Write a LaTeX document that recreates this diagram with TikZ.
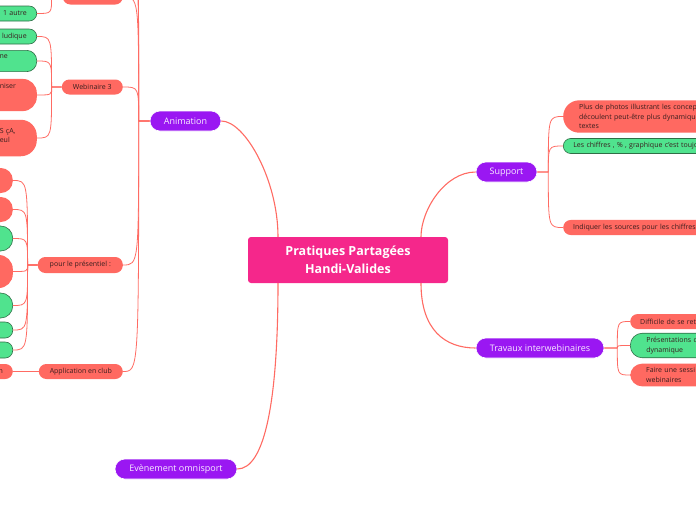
\documentclass[tikz,border=0pt]{standalone}
\usepackage{fontspec}
\setmainfont{Open Sans}
\usetikzlibrary{positioning}
\definecolor{hubpink}{HTML}{F5278B}
\definecolor{topicviolet}{HTML}{9A17F2}
\definecolor{topictext}{HTML}{F8ECFF}
\definecolor{ideared}{HTML}{FF6961}
\definecolor{ideagreen}{HTML}{50E38E}
\definecolor{ideaedge}{HTML}{2F6E47}
\definecolor{ideaink}{HTML}{3A1E1E}
\definecolor{linkred}{HTML}{FF6B63}
\newcommand{\cutl}[1]{\makebox[27pt][l]{#1}}

\tikzset{
  hub/.style={fill=hubpink, rounded corners=3pt, text=white,
    font=\bfseries\fontsize{12.5}{18}\selectfont, align=center,
    minimum width=200pt, minimum height=46pt},
  topic/.style={fill=topicviolet, draw=white, line width=0.6pt, rounded corners=10pt,
    text=topictext, font=\fontsize{9}{10}\selectfont, minimum height=20pt},
  idea/.style={fill=ideared, rounded corners=7.5pt, text=ideaink,
    font=\fontsize{7}{9.5}\selectfont, minimum height=15pt, inner xsep=10pt, inner ysep=4pt},
  okidea/.style={idea, fill=ideagreen, draw=ideaedge, line width=0.6pt},
  leftcut/.style={anchor=east, text width=60pt, align=right},
  rightcut/.style={anchor=west, text width=150pt, align=left},
  branch/.style={draw=linkred, line width=0.8pt},
  fork/.style={to path={-- ++(#1,0) coordinate (f) .. controls (f |- \tikztotarget) .. (\tikztotarget)}},
}

\begin{document}
\begin{tikzpicture}[x=1pt, y=-1pt] % pixel coordinates, y going down
  \useasboundingbox (0,0) rectangle (696,520);

  \node[hub] (hub) at (348,260) {Pratiques Partagées\\Handi-Valides};

  \node[topic, minimum width=71pt] (anim) at (185.5,121) {Animation};
  \node[topic, minimum width=61pt] (sup) at (506.5,172) {Support};
  \node[topic, minimum width=128pt] (trav) at (540,348) {Travaux interwebinaires};
  \node[topic, minimum width=122pt] (evt) at (176,469) {Evènement omnisport};

  \draw[branch, line width=1.1pt] ([xshift=-70pt]hub.north) .. controls (278,180) and (245,121) .. (anim.east);
  \draw[branch, line width=1.1pt] ([xshift=-70pt]hub.south) .. controls (278,400) and (265,469) .. (evt.east);
  \draw[branch, line width=1.1pt] ([xshift=73pt]hub.north) .. controls (421,210) and (445,172) .. (sup.west);
  \draw[branch, line width=1.1pt] ([xshift=73pt]hub.south) .. controls (421,330) and (445,348) .. (trav.west);

  % Animation
  \node[idea, minimum width=60pt, anchor=east] (webtop) at (123,-3) {};
  \node[idea, minimum width=61pt, anchor=east] (web3) at (123,87) {Webinaire 3};
  \node[idea, minimum width=85pt, minimum height=16pt, anchor=east] (pres) at (123,265) {pour le présentiel :};
  \node[idea, minimum width=84pt, anchor=east] (club) at (123,371.5) {Application en club};
  \coordinate (animup1) at (123,-45);
  \coordinate (animup2) at (123,-95);

  \draw[branch] (anim.west) to[fork=-11] (animup2);
  \draw[branch] (anim.west) to[fork=-11] (animup1);
  \draw[branch] (anim.west) to[fork=-11] (webtop.east);
  \draw[branch] (anim.west) to[fork=-11] (web3.east);
  \draw[branch] (anim.west) to[fork=-11] (pres.east);
  \draw[branch] (anim.west) to[fork=-11] (club.east);

  \node[okidea, leftcut] (autre) at (37,13.5) {1 autre};
  \draw[branch] (webtop.west) to[fork=-11] (autre.east);

  \node[okidea, leftcut] (lud) at (37,36.5) {ludique};
  \node[okidea, leftcut, rounded corners=10pt] (ne) at (37,61) {\cutl{ne}\\~};
  \node[idea, leftcut, rounded corners=14pt] (nis) at (37,95) {\cutl{niser}\\~\\~};
  \node[idea, leftcut, rounded corners=16pt] (sca) at (37,138) {~\\\cutl{S çA,}\\\cutl{eul}\\~};

  \foreach \n in {lud,ne,nis,sca}
    \draw[branch] (web3.west) to[fork=-10] (\n.east);

  \node[idea, leftcut, minimum height=25pt, rounded corners=12pt] (p1) at (13,180.5) {};
  \node[idea, leftcut, minimum height=25pt, rounded corners=12pt] (p2) at (13,209.5) {};
  \node[okidea, leftcut, minimum height=25pt, rounded corners=12pt] (p3) at (13,238.5) {};
  \node[idea, leftcut, minimum height=33pt, rounded corners=14pt] (p4) at (13,271.5) {};
  \node[okidea, leftcut, minimum height=25pt, rounded corners=12pt] (p5) at (13,305.5) {};
  \node[okidea, leftcut, minimum height=16pt] (p6) at (13,330) {};
  \node[okidea, leftcut, minimum height=16pt] (p7) at (13,350) {};

  \foreach \n in {p1,p2,p3,p4,p5,p6,p7}
    \draw[branch] (pres.west) to[fork=-10] (\n.east);

  \node[idea, leftcut] (clubn) at (13,371.5) {n};
  \draw[branch] (club.west) -- (clubn.east);

  % Support
  \node[idea, rightcut, inner xsep=16pt, rounded corners=16pt] (photos) at (563,116.5) {Plus de photos illustrant les concept\\découlent peut-être plus dynamique\\textes};
  \node[okidea, rightcut] (chif) at (563,146) {Les chiffres , \% , graphique c'est toujo};
  \node[idea, rightcut] (src) at (563,227.5) {Indiquer les sources pour les chiffres};

  \foreach \n in {photos,chif,src}
    \draw[branch] (sup.east) to[fork=11] (\n.west);

  % Travaux interwebinaires
  \node[idea, rightcut] (diff) at (630,321.5) {Difficile de se ret};
  \node[okidea, rightcut, inner xsep=16pt, rounded corners=12pt] (prez) at (630,345.5) {Présentations d\\dynamique};
  \node[idea, rightcut, inner xsep=16pt, rounded corners=12pt] (faire) at (630,375) {Faire une sessi\\webinaires};

  \foreach \n in {diff,prez,faire}
    \draw[branch] (trav.east) to[fork=13] (\n.west);

\end{tikzpicture}
\end{document}
